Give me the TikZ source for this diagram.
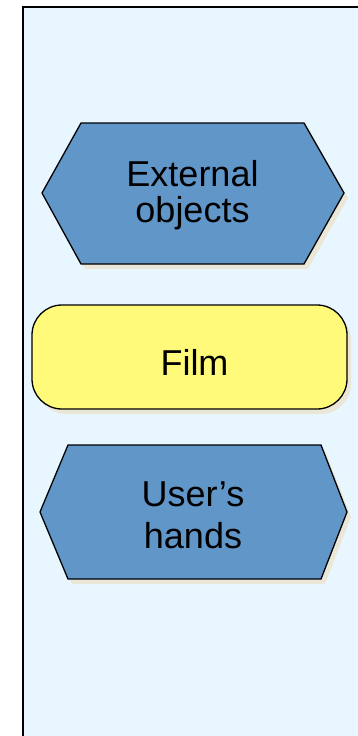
\documentclass[tikz,border=0pt]{standalone}
\usepackage{fontspec}
\setmainfont{Liberation Sans}
\definecolor{panelbg}{RGB}{232,246,255}
\definecolor{hexblue}{RGB}{97,150,201}
\definecolor{filmyellow}{RGB}{255,250,122}
\definecolor{shadowtint}{RGB}{234,231,216}
\tikzset{
  shapeline/.style={draw=black, line width=1.3pt, line join=miter},
  shadowfill/.style={fill=shadowtint, draw=none},
  label/.style={inner sep=0pt, anchor=base, font=\fontsize{36}{36}\selectfont}
}
\begin{document}
\begin{tikzpicture}[x=1pt, y=-1pt]
  % page and panel
  \useasboundingbox (0,0) rectangle (358,736);
  \fill[white] (0,0) rectangle (358,736);
  \fill[panelbg] (23,7) rectangle (358,736);
  \draw[line width=2pt] (23,736) -- (23,7) -- (358,7);

  % external objects: hexagon with drop shadow
  \fill[shadowfill, shift={(4,5)}] (42,193) -- (81,123) -- (304,123) -- (344,193) -- (304,264) -- (81,264) -- cycle;
  \filldraw[shapeline, fill=hexblue] (42,193) -- (81,123) -- (304,123) -- (344,193) -- (304,264) -- (81,264) -- cycle;
  \node[label] (ext1) at (192.5,186.7) {External};
  \node[label] (ext2) at (192.5,222.7) {objects};

  % film: rounded box with drop shadow
  \fill[shadowfill, rounded corners=30pt, shift={(4,5)}] (32,305) rectangle (347,409);
  \filldraw[shapeline, fill=filmyellow, rounded corners=30pt] (32,305) rectangle (347,409);
  \node[label] (film) at (194.5,375) {Film};

  % user's hands: hexagon with drop shadow
  \fill[shadowfill, shift={(4,5)}] (40,512) -- (68,445) -- (321,445) -- (347,512) -- (321,579) -- (68,579) -- cycle;
  \filldraw[shapeline, fill=hexblue] (40,512) -- (68,445) -- (321,445) -- (347,512) -- (321,579) -- (68,579) -- cycle;
  \node[label] (hand1) at (193,506) {User’s};
  \node[label] (hand2) at (193,548) {hands};
\end{tikzpicture}
\end{document}
